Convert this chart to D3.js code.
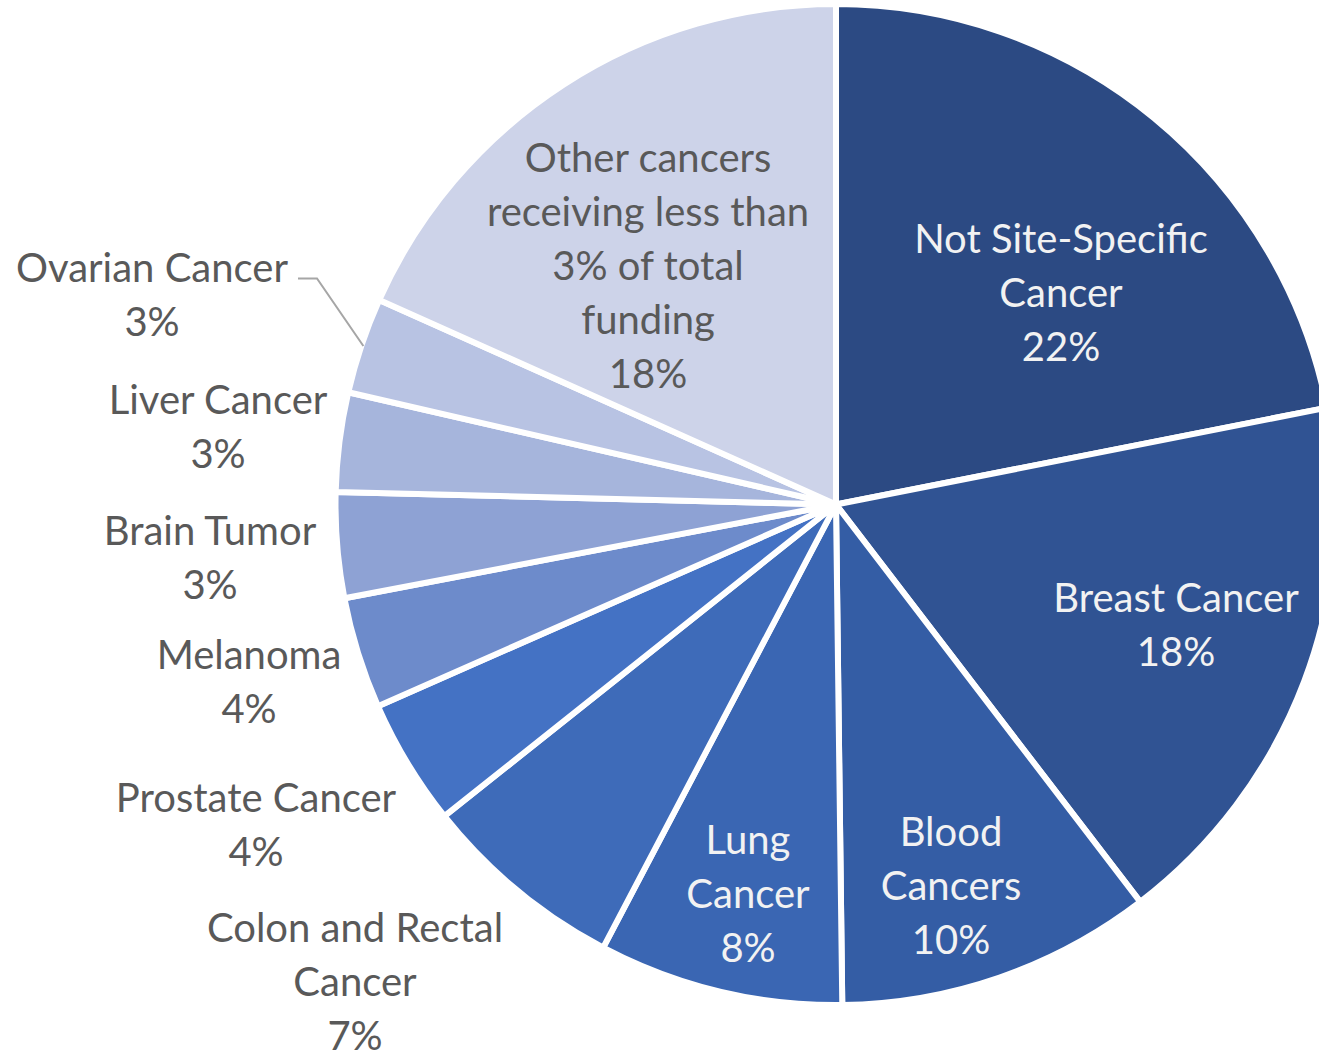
<!DOCTYPE html>
<html>
<head>
<meta charset="utf-8">
<script src="https://cdn.jsdelivr.net/npm/d3@7"></script>
<style>
  body { margin: 0; background: #fff; }
  text { font-family: Lato, "Open Sans", sans-serif; }
</style>
</head>
<body>
<div id="chart-area"></div>
<script>
/*
 *    pie chart - cancer research funding
 */

const categories = ["Not Site-Specific Cancer", "Breast Cancer", "Blood Cancers", "Lung Cancer",
    "Colon and Rectal Cancer", "Prostate Cancer", "Melanoma", "Brain Tumor", "Liver Cancer",
    "Ovarian Cancer", "Other cancers receiving less than 3% of total funding"];
const shares = [21.9, 17.7, 10.2, 7.9, 6.6, 4.1, 3.6, 3.4, 3.2, 3.1, 18.3];
// how each label is broken into lines (the percentage is added as the last line)
const labelLines = [
    ["Not Site-Specific", "Cancer"],
    ["Breast Cancer"],
    ["Blood", "Cancers"],
    ["Lung", "Cancer"],
    ["Colon and Rectal", "Cancer"],
    ["Prostate Cancer"],
    ["Melanoma"],
    ["Brain Tumor"],
    ["Liver Cancer"],
    ["Ovarian Cancer"],
    ["Other cancers", "receiving less than", "3% of total", "funding"]
];

var colours = ["#2c4a83", "#305393", "#345da5", "#3a66b3", "#3e6bb9", "#4472c4",
    "#6d8bcb", "#8ea2d4", "#a6b5dc", "#b8c3e3", "#cdd3e9"];
// label centre offsets from the pie centre, in px
var labelOffset = [[225, -212], [340, 120], [115, 381], [-88, 389], [-481, 477], [-580, 320],
    [-587, 177], [-626, 53], [-618, -78], [-684, -210], [-188, -239]];
var labelInside = [true, true, true, true, false, false, false, false, false, false, true];

const width = 1319;
const height = 1052;
const cx = 836, cy = 504.5, radius = 500.5;
const lineH = 54;

const svg = d3.select("#chart-area")
    .append("svg")
    .attr("width", width)
    .attr("height", height);

const g = svg.append("g")
    .attr("transform", "translate(" + cx + ", " + cy + ")");

const pie = d3.pie().sort(null).value((d) => d);
const arc = d3.arc().innerRadius(0).outerRadius(radius);
const arcs = pie(shares);

g.selectAll("path.slice")
    .data(arcs)
    .enter()
    .append("path")
    .attr("class", "slice")
    .attr("d", arc)
    .attr("fill", (d, i) => colours[i])
    .attr("stroke", "#fff")
    .attr("stroke-width", 6)
    .attr("stroke-linejoin", "round");

/** leader line for Ovarian Cancer */
const ov = arcs[9];
const ovMid = (ov.startAngle + ov.endAngle) / 2;
const ovEnd = [Math.sin(ovMid) * (radius - 2), -Math.cos(ovMid) * (radius - 2)];
g.append("polyline")
    .attr("points", [[-538, -226], [-519, -226], ovEnd].map((p) => p.join(",")).join(" "))
    .attr("fill", "none")
    .attr("stroke", "#a6a6a6")
    .attr("stroke-width", 2);

/** Labels */
const labels = g.selectAll("text.label")
    .data(arcs)
    .enter()
    .append("text")
    .attr("class", "label")
    .attr("text-anchor", "middle")
    .attr("font-size", "40px")
    .attr("fill", (d, i) => labelInside[i] && i < 10 ? "#f2f2f2" : "#595959");

labels.each(function(d, i) {
    const lines = labelLines[i].concat([Math.round(d.data) + "%"]);
    const top = labelOffset[i][1] - (lines.length - 1) * lineH / 2;
    d3.select(this).selectAll("tspan")
        .data(lines)
        .enter()
        .append("tspan")
        .attr("x", labelOffset[i][0])
        .attr("y", (t, k) => top + k * lineH)
        .attr("dy", "0.35em")
        .text((t) => t);
});
</script>
</body>
</html>
